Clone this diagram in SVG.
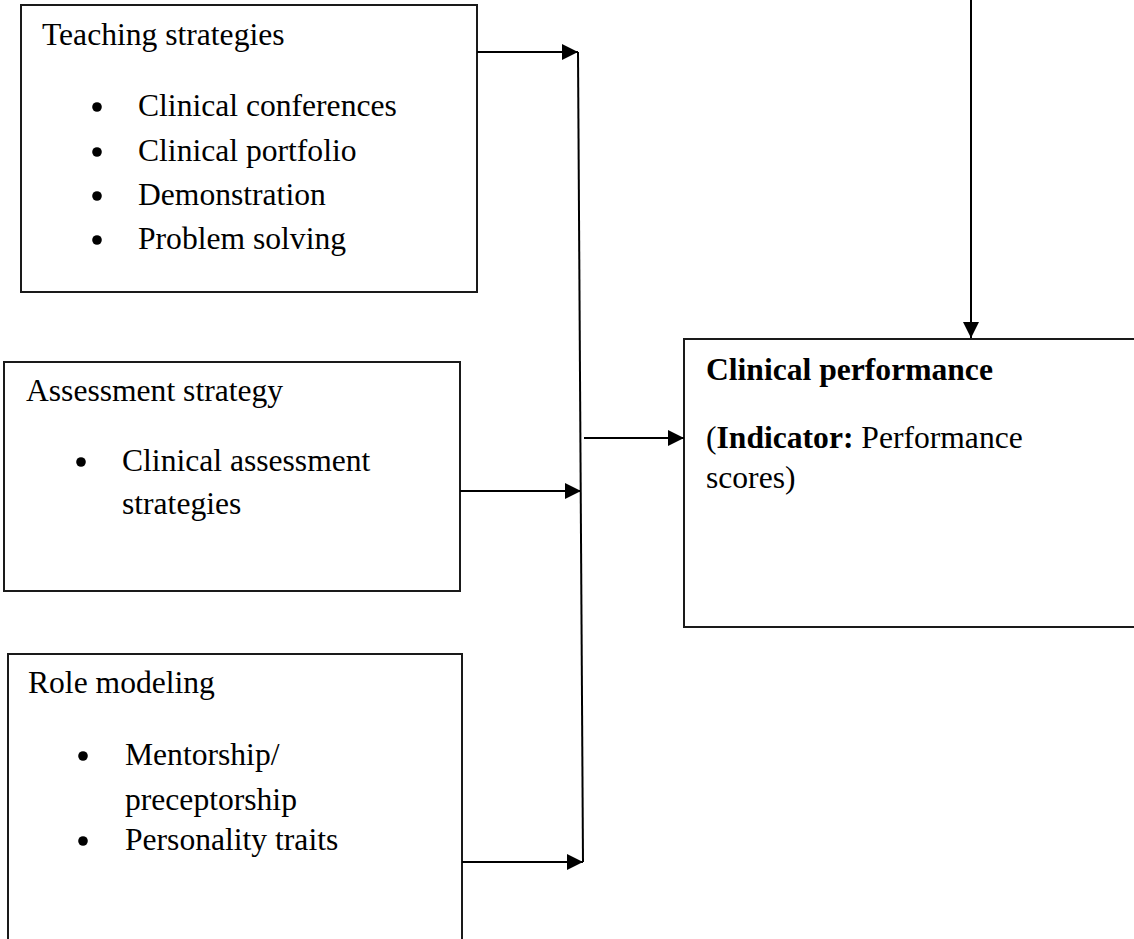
<svg xmlns="http://www.w3.org/2000/svg" width="1134" height="939" viewBox="0 0 1134 939">
<style>
  .box { fill: #ffffff; stroke: #1a1a1a; stroke-width: 2; }
  .t { font-family: "Liberation Serif", "Times New Roman", serif; font-size: 31.6px; fill: #000000; }
  .b { font-weight: bold; }
  .dot { fill: #000000; }
  .conn { fill: none; stroke: #000000; stroke-width: 2; }
</style>
<defs>
  <marker id="arrow" markerUnits="userSpaceOnUse" markerWidth="18" markerHeight="18" refX="16" refY="8" orient="auto">
    <path d="M0,0 L16,8 L0,16 Z" fill="#000000"/>
  </marker>
</defs>

<g id="teaching">
  <rect class="box" x="21" y="5" width="456" height="287"/>
  <text class="t" x="42" y="45">Teaching strategies</text>
  <circle class="dot" cx="97" cy="107" r="4.8"/>
  <text class="t" x="138" y="116">Clinical conferences</text>
  <circle class="dot" cx="97" cy="152" r="4.8"/>
  <text class="t" x="138" y="161">Clinical portfolio</text>
  <circle class="dot" cx="97" cy="196" r="4.8"/>
  <text class="t" x="138" y="205">Demonstration</text>
  <circle class="dot" cx="97" cy="240" r="4.8"/>
  <text class="t" x="138" y="249">Problem solving</text>
</g>

<g id="assessment">
  <rect class="box" x="4" y="362" width="456" height="229"/>
  <text class="t" x="26" y="401">Assessment strategy</text>
  <circle class="dot" cx="81" cy="462" r="4.8"/>
  <text class="t" x="122" y="471">Clinical assessment</text>
  <text class="t" x="122" y="514">strategies</text>
</g>

<g id="role">
  <rect class="box" x="8" y="654" width="454" height="300"/>
  <text class="t" x="28" y="693">Role modeling</text>
  <circle class="dot" cx="83" cy="756" r="4.8"/>
  <text class="t" x="125" y="765">Mentorship/</text>
  <text class="t" x="125" y="810">preceptorship</text>
  <circle class="dot" cx="83" cy="841" r="4.8"/>
  <text class="t" x="125" y="850">Personality traits</text>
</g>

<g id="performance">
  <rect class="box" x="684" y="339" width="460" height="288"/>
  <text class="t b" x="706" y="380">Clinical performance</text>
  <text class="t" x="706" y="448">(<tspan class="b">Indicator:</tspan> Performance</text>
  <text class="t" x="706" y="488">scores)</text>
</g>

<g id="connectors">
  <line class="conn" x1="477" y1="52" x2="578" y2="52" marker-end="url(#arrow)"/>
  <line class="conn" x1="578" y1="52" x2="583" y2="862"/>
  <line class="conn" x1="460" y1="491" x2="581" y2="491" marker-end="url(#arrow)"/>
  <line class="conn" x1="462" y1="862" x2="583" y2="862" marker-end="url(#arrow)"/>
  <line class="conn" x1="584" y1="438" x2="684" y2="438" marker-end="url(#arrow)"/>
  <line class="conn" x1="971" y1="0" x2="971" y2="338" marker-end="url(#arrow)"/>
</g>
</svg>
